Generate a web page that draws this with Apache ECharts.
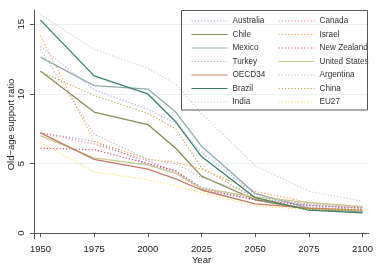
<!DOCTYPE html>
<html>
<head>
<meta charset="utf-8">
<script src="https://cdn.jsdelivr.net/npm/echarts@6/dist/echarts.min.js"></script>
<style>
  html, body { margin: 0; padding: 0; background: #fff; }
  #chart { width: 377px; height: 271px; }
</style>
</head>
<body>
<div id="chart"></div>
<script>
// years of the projections
var years = [1950, 1975, 2000, 2013, 2025, 2050, 2075, 2100];
var xTicks = [1950, 1975, 2000, 2025, 2050, 2075, 2100];
var yTicks = [0, 5, 10, 15];

// old-age support ratio
var australia    = [7.2, 6.6, 5.0, 4.4, 3.3, 2.5, 2.1, 1.85];
var canada       = [7.2, 6.4, 5.2, 4.4, 3.1, 2.4, 2.0, 1.8];
var chile        = [11.65, 8.7, 7.8, 6.1, 4.1, 2.4, 1.7, 1.55];
var israel       = [14.2, 6.6, 5.3, 5.1, 4.6, 3.0, 2.2, 1.9];
var mexico       = [12.65, 10.6, 10.35, 8.7, 6.25, 2.85, 1.8, 1.55];
var newZealand   = [6.1, 6.0, 5.0, 4.5, 3.2, 2.4, 2.0, 1.8];
var turkey       = [13.4, 10.3, 8.9, 7.9, 5.8, 2.8, 1.9, 1.7];
var unitedStates = [7.0, 5.4, 4.9, 4.3, 3.2, 2.6, 2.2, 1.9];
var oecd34       = [7.2, 5.3, 4.6, 3.9, 3.1, 2.1, 1.8, 1.65];
var argentina    = [13.2, 7.1, 5.3, 5.0, 4.0, 2.8, 2.0, 1.8];
var brazil       = [15.3, 11.3, 10.0, 8.0, 5.5, 2.55, 1.65, 1.45];
var china        = [11.6, 9.9, 8.6, 7.5, 4.7, 2.5, 1.8, 1.7];
var india        = [15.7, 13.2, 11.85, 10.7, 8.6, 4.85, 3.0, 2.3];
var eu27         = [6.5, 4.4, 3.85, 3.4, 2.9, 1.95, 1.7, 1.65];

var dots = [1.2, 2];

function pairs(vals) {
    return years.map(function (y, i) { return [y, vals[i]]; });
}

function mk(name, vals, color, dotted) {
    return {
        name: name,
        type: 'line',
        data: pairs(vals),
        symbol: 'none',
        silent: true,
        animation: false,
        itemStyle: { color: color },
        lineStyle: { color: color, width: dotted ? 1.1 : 1.3, type: dotted ? dots : 'solid' }
    };
}

var Series = [
    mk('Australia', australia, '#8e98c4', true),
    mk('Canada', canada, '#e27f9c', true),
    mk('Chile', chile, '#8a8a55', false),
    mk('Israel', israel, '#f0a448', true),
    mk('Mexico', mexico, '#93abab', false),
    mk('New Zealand', newZealand, '#c6437a', true),
    mk('Turkey', turkey, '#aca6e6', true),
    mk('United States', unitedStates, '#c9c98e', false),
    mk('OECD34', oecd34, '#c47a68', false),
    mk('Argentina', argentina, '#b8b8b8', true),
    mk('Brazil', brazil, '#3d7d6c', false),
    mk('China', china, '#b5a64e', true),
    mk('India', india, '#c9c9c9', true),
    mk('EU27', eu27, '#f6de4a', true)
];

var col1 = ['Australia', 'Chile', 'Mexico', 'Turkey', 'OECD34', 'Brazil', 'India'];
var col2 = ['Canada', 'Israel', 'New Zealand', 'United States', 'Argentina', 'China', 'EU27'];

var legendText = { fontFamily: 'Liberation Sans', fontSize: 8.2, color: '#333', lineHeight: 10 };

function legendCol(names, left) {
    return {
        data: names, orient: 'vertical', left: left, top: 11,
        itemWidth: 36, itemHeight: 10, itemGap: 3.5,
        itemStyle: { opacity: 0 },
        lineStyle: { width: 1 },
        textStyle: legendText, selectedMode: false
    };
}

var myChart = echarts.init(document.getElementById('chart'));
myChart.setOption({
    backgroundColor: '#fff',
    animation: false,
    grid: { left: 34, right: 8, top: 10, bottom: 32, containLabel: false, outerBoundsMode: 'none' },
    legend: [legendCol(col1, 186), legendCol(col2, 273)],
    graphic: [
        {
            type: 'rect', z: 100, silent: true,
            shape: { x: 181.5, y: 10.5, width: 186, height: 99.5 },
            style: { fill: 'none', stroke: '#555', lineWidth: 1 }
        }
    ],
    xAxis: {
        type: 'value',
        min: 1947,
        max: 2103,
        name: 'Year',
        nameLocation: 'middle',
        nameGap: 16,
        nameMoveOverlap: false,
        nameTextStyle: { fontFamily: 'Liberation Sans', fontSize: 9.5, color: '#222' },
        axisLine: { lineStyle: { color: '#555', width: 1 } },
        axisTick: { customValues: xTicks, length: 4, lineStyle: { color: '#555' } },
        axisLabel: {
            customValues: xTicks, margin: 5,
            formatter: function (v) { return String(v); },
            fontFamily: 'Liberation Sans', fontSize: 9.5, color: '#222'
        },
        splitLine: { show: false }
    },
    yAxis: {
        type: 'value',
        min: -0.42,
        max: 16.03,
        name: 'Old\u2212age support ratio',
        nameLocation: 'middle',
        nameGap: 18,
        nameRotate: 90,
        nameMoveOverlap: false,
        nameTextStyle: { fontFamily: 'Liberation Sans', fontSize: 9.5, color: '#222' },
        axisLine: { show: true, lineStyle: { color: '#555', width: 1 } },
        axisTick: { show: true, customValues: yTicks, length: 4, lineStyle: { color: '#555' } },
        axisLabel: {
            customValues: yTicks, rotate: 90, margin: 8,
            align: 'center', verticalAlign: 'bottom',
            fontFamily: 'Liberation Sans', fontSize: 9.5, color: '#222'
        },
        splitLine: { show: true, lineStyle: { color: '#e9f1f2', width: 1 } }
    },
    series: Series
});
</script>
</body>
</html>
